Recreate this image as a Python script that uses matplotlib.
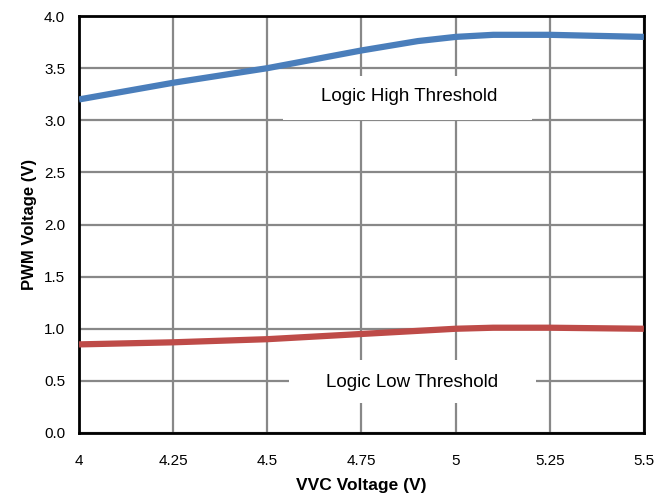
import matplotlib.pyplot as plt
from matplotlib.patches import Rectangle

plt.rcParams['font.family'] = ['Liberation Sans', 'DejaVu Sans']

# VVC voltage (V)
vvc = [4.0, 4.25, 4.5, 4.75, 4.9, 5.0, 5.1, 5.25, 5.5]
# thresholds (V)
high_th = [3.20, 3.36, 3.50, 3.67, 3.76, 3.80, 3.82, 3.82, 3.80]
low_th = [0.85, 0.87, 0.90, 0.95, 0.98, 1.00, 1.01, 1.01, 1.00]

x_ticks = [4, 4.25, 4.5, 4.75, 5, 5.25, 5.5]
x_labels = ['4', '4.25', '4.5', '4.75', '5', '5.25', '5.5']
y_ticks = [0.0, 0.5, 1.0, 1.5, 2.0, 2.5, 3.0, 3.5, 4.0]

fig = plt.figure(figsize=(6.7, 4.94), dpi=100)
ax = fig.add_axes([0.118, 0.1235, 0.843, 0.844])

ax.plot(vvc, high_th, color='#4a7ebb', lw=4.5, zorder=3, solid_capstyle='butt')
ax.plot(vvc, low_th, color='#be4b48', lw=4.5, zorder=3, solid_capstyle='butt')

ax.set_xlim(4, 5.5)
ax.set_ylim(0, 4)
ax.set_xticks(x_ticks)
ax.set_xticklabels(x_labels)
ax.set_yticks(y_ticks)
ax.set_yticklabels([f'{v:.1f}' for v in y_ticks])
ax.tick_params(length=0, labelsize=11)
ax.tick_params(axis='x', pad=15)
ax.tick_params(axis='y', pad=10)

ax.grid(True, color='#888888', lw=1.6)
ax.set_axisbelow(True)
for s in ax.spines.values():
    s.set_linewidth(2)
    s.set_color('black')

# white label boxes that hide the grid
ax.add_patch(Rectangle((0.361, 0.751), 0.441, 0.105, transform=ax.transAxes,
                       facecolor='white', edgecolor='none', zorder=1))
ax.add_patch(Rectangle((0.372, 0.072), 0.437, 0.103, transform=ax.transAxes,
                       facecolor='white', edgecolor='none', zorder=1))
ax.text(0.584, 0.806, 'Logic High Threshold', transform=ax.transAxes,
        ha='center', va='center', fontsize=13.5, zorder=4)
ax.text(0.589, 0.122, 'Logic Low Threshold', transform=ax.transAxes,
        ha='center', va='center', fontsize=13.5, zorder=4)

ax.set_xlabel('VVC Voltage (V)', fontsize=12.5, fontweight='bold', labelpad=7)
ax.set_ylabel('PWM Voltage (V)', fontsize=12, fontweight='bold', labelpad=5)

fig.savefig('out.png', dpi=100)
